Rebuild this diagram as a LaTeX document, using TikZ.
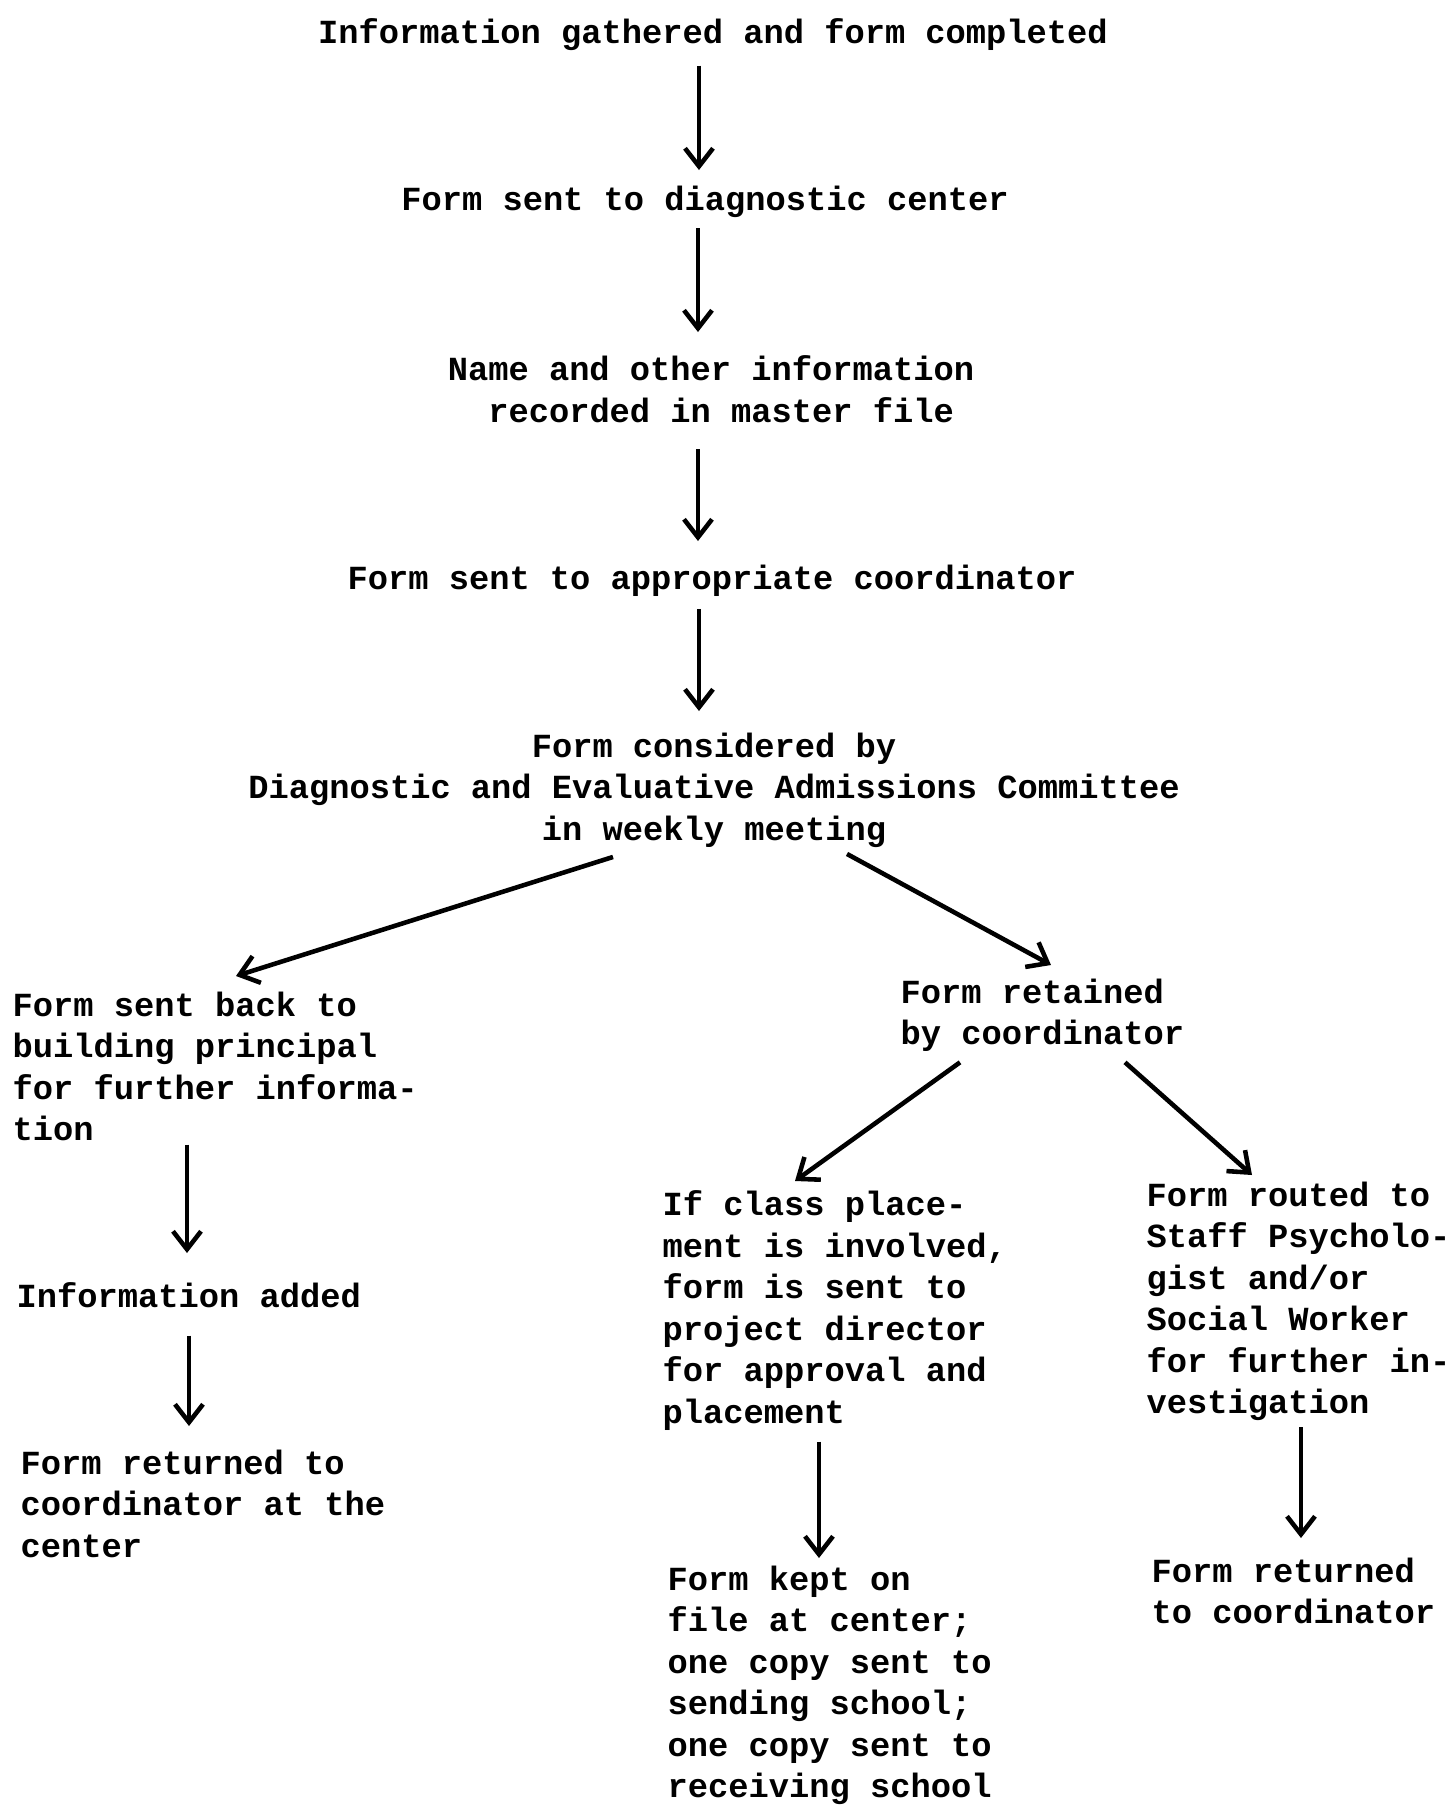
\documentclass[tikz,border=0pt]{standalone}
\usepackage{fontspec}
\setmonofont{Liberation Mono}
\usetikzlibrary{arrows.meta,calc}
\begin{document}
\begin{tikzpicture}[x=0.1mm,y=-0.1mm]
    \tikzset{font=\ttfamily\bfseries\fontsize{9.6}{11.8}\selectfont,
        inner sep=0pt}
    \tikzset{mid/.style = {anchor=north,align=center}}
    \tikzset{side/.style = {anchor=north west,align=left}}
    \tikzset{flow/.style = {line width=1.3pt,-{Straight Barb[length=1.8mm,width=2.8mm]}}}
    \useasboundingbox (0,0) rectangle (1455,1807);
    % vertices
    \node[mid] (1) at (713,18) {Information gathered and form completed};
    \node[mid] (2) at (705,185) {Form sent to diagnostic center};
    \node[mid] (3) at (711,355) {Name and other information\\~recorded in master file};
    \node[mid] (4) at (712,564) {Form sent to appropriate coordinator};
    \node[mid] (5) at (714,732) {Form considered by\\Diagnostic and Evaluative Admissions Committee\\in weekly meeting};
    \node[side] (6) at (12,991) {Form sent back to\\building principal\\for further informa-\\tion};
    \node[side] (7) at (900,978) {Form retained\\by coordinator};
    \node[side] (8) at (16,1282) {Information added};
    \node[side] (9) at (20,1449) {Form returned to\\coordinator at the\\center};
    \node[side] (10) at (662,1190) {If class place-\\ment is involved,\\form is sent to\\project director\\for approval and\\placement};
    \node[side] (11) at (1146,1181) {Form routed to\\Staff Psycholo-\\gist and/or\\Social Worker\\for further in-\\vestigation};
    \node[side] (12) at (667,1565) {Form kept on\\file at center;\\one copy sent to\\sending school;\\one copy sent to\\receiving school};
    \node[side] (13) at (1151,1557) {Form returned\\to coordinator};

    %edges
    \draw[flow] ($(1.south)+(-14,14)$) -- ($(2.north)+(-6,-15)$);
    \draw[flow] ($(2.south)+(-7,10)$) -- ($(3.north)+(-13,-23)$);
    \draw[flow] ($(3.south)+(-13,26)$) -- ($(4.north)+(-14,-23)$);
    \draw[flow] ($(4.south)+(-13,12)$) -- ($(5.north)+(-15,-21)$);
    \draw[flow] ($(5.south)+(-101,9)$) -- ($(6.north west)+(224,-15)$);
    \draw[flow] ($(5.south)+(133,6)$) -- ($(7.north west)+(151,-13)$);
    \draw[flow] ($(6.south west)+(175,3)$) -- ($(8.north west)+(171,-29)$);
    \draw[flow] ($(8.south west)+(173,27)$) -- ($(9.north west)+(169,-23)$);
    \draw[flow] ($(7.south west)+(60,10)$) -- ($(10.north west)+(133,-9)$);
    \draw[flow] ($(7.south west)+(225,10)$) -- ($(11.north west)+(106,-6)$);
    \draw[flow] ($(10.south west)+(157,11)$) -- ($(12.north west)+(152,-7)$);
    \draw[flow] ($(11.south west)+(155,6)$) -- ($(13.north west)+(150,-19)$);
\end{tikzpicture}
\end{document}
